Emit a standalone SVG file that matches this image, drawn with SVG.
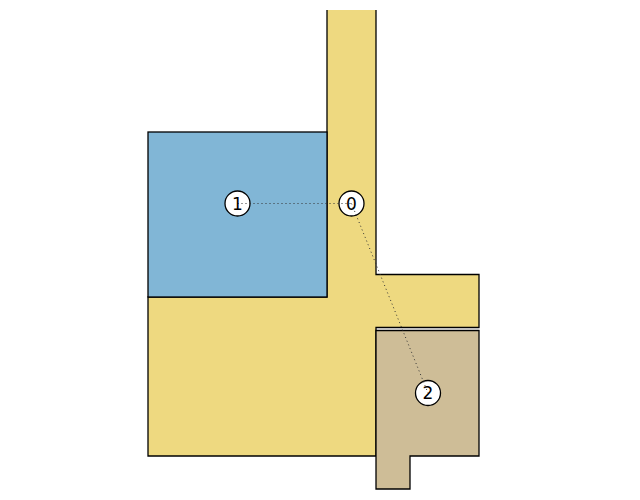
<svg xmlns="http://www.w3.org/2000/svg" width="640" height="500" viewBox="0 0 640 500">
<style>
.room{stroke:#000;stroke-width:1.3;stroke-linejoin:miter}
.node circle{fill:#fff;stroke:#000;stroke-width:1.3}
.node text{font-family:"DejaVu Sans",sans-serif;font-size:17px;text-anchor:middle;dominant-baseline:central;fill:#000}
.link{stroke:#333;stroke-width:1;stroke-dasharray:1,3;fill:none}
</style>
<rect width="640" height="500" fill="#fff"/>
<g id="room-yellow">
<polygon fill="#eed980" points="327,10 376,10 376,274.5 479,274.5 479,327.5 376,327.5 376,456 148,456 148,297 327,297"/>
<polyline class="room" fill="none" points="376,10 376,274.5 479,274.5 479,327.5 376,327.5 376,456 148,456 148,297 327,297 327,10"/>
</g>
<g id="room-blue"><rect class="room" fill="#81b6d6" x="148" y="132" width="179" height="165"/></g>
<g id="room-tan"><polygon class="room" fill="#cebd97" points="376,330.5 479,330.5 479,456 410,456 410,489 376,489"/></g>
<g id="node-0" class="node"><circle cx="351.5" cy="203.5" r="12.5"/></g>
<g id="node-1" class="node"><circle cx="237.5" cy="203.5" r="12.5"/></g>
<g id="node-2" class="node"><circle cx="428" cy="393" r="12.5"/></g>
<g id="connectors">
<line class="link" x1="237.5" y1="203.5" x2="351.5" y2="203.5"/>
<line class="link" x1="351.5" y1="203.5" x2="428" y2="393"/>
</g>
<g id="labels" class="node">
<text x="351.5" y="203.5">0</text>
<text x="237.5" y="203.5">1</text>
<text x="428" y="393">2</text>
</g>
</svg>
